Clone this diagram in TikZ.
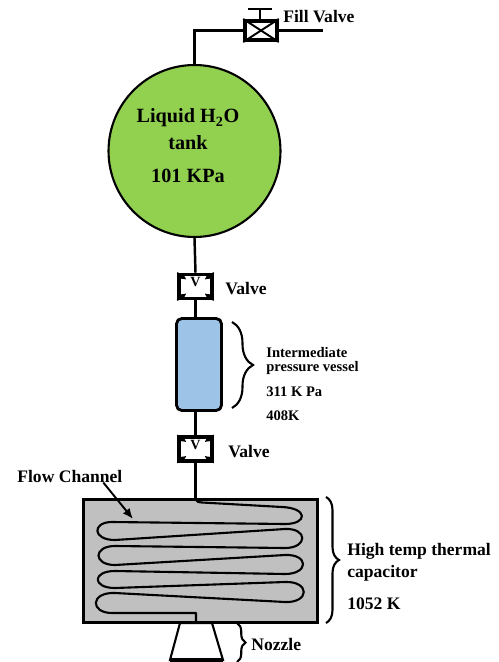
\documentclass[tikz,border=0pt]{standalone}
\usepackage{fontspec}
\setmainfont{Liberation Serif}
\usepackage{tikz}
\usetikzlibrary{calc, arrows.meta, decorations.pathreplacing}
\definecolor{tankgreen}{HTML}{92D050}
\definecolor{vesselblue}{HTML}{9DC3E6}
\definecolor{capgray}{HTML}{C0C0C0}
\tikzset{
    pipe/.style={draw=black, line width=1.4pt},
    channel/.style={draw=black, line width=1.2pt},
    bracket/.style={draw=black, line width=1.2pt, decorate, decoration={brace, amplitude=#1}},
    valvebox/.style={draw=black, fill=white, line width=2pt, inner sep=0pt, minimum width=0.66cm, minimum height=0.48cm},
    lbl/.style={inner sep=0pt, anchor=west, font=\bfseries\fontsize{10}{12}\selectfont},
    smalllbl/.style={inner sep=0pt, anchor=west, font=\bfseries\fontsize{8.3}{10}\selectfont},
    tanklbl/.style={inner sep=0pt, font=\bfseries\fontsize{11.5}{14}\selectfont},
}

\begin{document}
\begin{tikzpicture}[x=0.02cm, y=-0.02cm]
    \useasboundingbox (0,0) rectangle (499,662);
    % Main parts
    \node[circle, draw=black, fill=tankgreen, line width=1.2pt, inner sep=0pt, minimum size=3.44cm] (tank) at (194.5,151) {};
    \node[valvebox, minimum width=0.64cm, minimum height=0.39cm] (fillvalve) at (261,30.5) {};
    \node[valvebox] (uppervalve) at (195.5,286.5) {};
    \node[valvebox] (lowervalve) at (195.5,449) {};
    \node[draw=black, fill=vesselblue, line width=1.6pt, rounded corners=3pt, inner sep=0pt, minimum width=0.9cm, minimum height=1.84cm] (vessel) at (199,364.5) {};
    \node[draw=black, fill=capgray, line width=1.6pt, inner sep=0pt, minimum width=4.68cm, minimum height=2.46cm] (capacitor) at (200.5,561) {};
    \coordinate (fillend) at (323,30.5);
    \coordinate (stemtop) at (260,9);
    \coordinate (chanin) at (195.5,499);
    \coordinate (chanout) at (196,623);

    % Pipes
    \draw[pipe] (tank.north) |- (fillvalve.west);
    \draw[pipe] (fillvalve.east) -- (fillend);
    \draw[pipe] (fillvalve.north -| stemtop) -- (stemtop);
    \draw[pipe] (248,9) -- (272,9);
    \draw[pipe] (tank.south) -- (uppervalve.north);
    \draw[pipe] (uppervalve.south) -- (uppervalve.south |- vessel.north);
    \draw[pipe] (lowervalve.north |- vessel.south) -- (lowervalve.north);
    \draw[pipe] (lowervalve.south) -- (chanin);

    % Valve symbols
    \draw[line width=1.1pt] (fillvalve.north west) -- (fillvalve.south east);
    \draw[line width=1.1pt] (fillvalve.south west) -- (fillvalve.north east);
    \foreach \v in {uppervalve, lowervalve} {
        \foreach \c in {north west, north east, south west, south east} {
            \draw[-{Latex[length=3.6pt, width=4.2pt]}, line width=0.9pt] (\v.\c) -- ($(\v.\c)!0.5!(\v.center)$);
        }
        \node[inner sep=0pt, font=\bfseries\fontsize{8}{10}\selectfont] (\v label) at ([yshift=0.08cm]\v.center) {V};
    }

    % Channel inside the capacitor
    \draw[channel, line join=round] (chanin) -- (196,500) .. controls (197,502) and (199,502.5) .. (202,502.5)
        -- (282,507) .. controls (308,508) and (308,524) .. (285,524)
        -- (112,522) .. controls (92,522) and (92,540) .. (115,540)
        -- (285,529) .. controls (308,528) and (308,548) .. (285,548)
        -- (115,546) .. controls (93,546) and (93,565) .. (115,565)
        -- (285,555) .. controls (309,554) and (309,574) .. (285,574)
        -- (115,571) .. controls (92,571) and (92,588) .. (115,588)
        -- (285,582) .. controls (310,581) and (310,603) .. (285,602)
        -- (115,593) .. controls (90,592) and (90,613) .. (112,613)
        -- (196,613) -- (chanout);

    % Nozzle
    \draw[fill=white, line width=1.2pt] (180,623) -- (212,623) -- (223,660) -- (170,660) -- cycle;
    \draw[line width=1.8pt] (170,660) -- (223,660);

    % Braces
    \draw[bracket=0.42cm] (232,322) -- (232,408);
    \draw[bracket=0.26cm] (326,497) -- (326,623);
    \draw[bracket=0.17cm] (237,623) -- (237,662);

    % Labels
    \node[tanklbl] (tankname) at (188,118) {Liquid H\textsubscript{2}O};
    \node[tanklbl] (tanktype) at (188,143) {tank};
    \node[tanklbl] (tankpress) at (188,176) {101 KPa};
    \node[lbl] (filllabel) at (283,17) {Fill Valve};
    \node[lbl] (upperlabel) at (225,289) {Valve};
    \node[lbl] (lowerlabel) at (228,452) {Valve};
    \node[smalllbl] (vesselone) at (266,353) {Intermediate};
    \node[smalllbl] (vesseltwo) at (266,368) {pressure vessel};
    \node[smalllbl] (vesselpress) at (266,392) {311 K Pa};
    \node[smalllbl] (vesseltemp) at (266,416) {408K};
    \node[lbl] (flowlabel) at (17,476) {Flow Channel};
    \node[lbl] (capone) at (347,551) {High temp thermal};
    \node[lbl] (captwo) at (347,573) {capacitor};
    \node[lbl] (captemp) at (347,604) {1052 K};
    \node[lbl] (nozzlelabel) at (251,644) {Nozzle};

    % Flow channel pointer
    \coordinate (flowtip) at (133,519);
    \draw[-{Latex[length=6pt, width=5pt]}, line width=1.1pt] ([xshift=0.67cm]flowlabel.south) -- (flowtip);
\end{tikzpicture}
\end{document}
